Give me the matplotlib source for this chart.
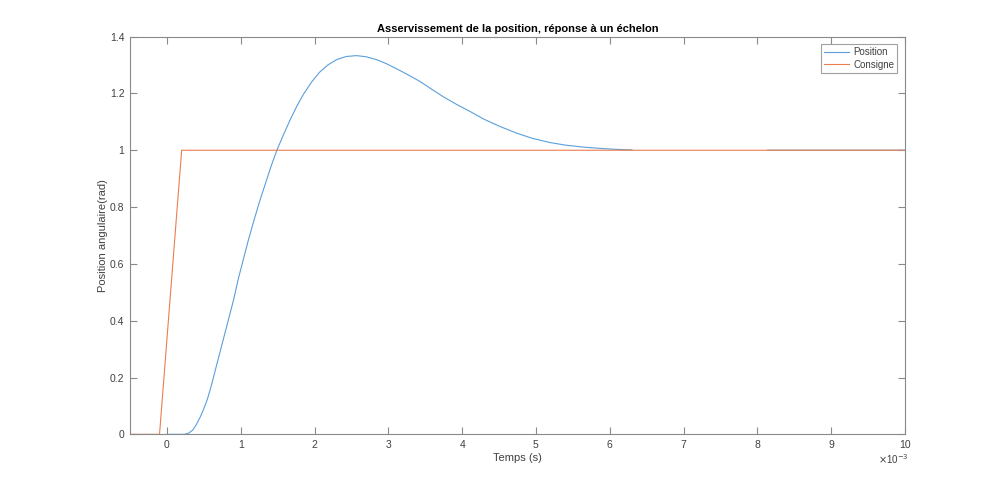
import numpy as np
import matplotlib
matplotlib.use("Agg")
import matplotlib.pyplot as plt

plt.rcParams["font.family"] = ["Liberation Sans", "DejaVu Sans"]

# Position response (time in ms, angle in rad); gap in the recorded trace
t_pos = [0, 0.24, 0.30, 0.35, 0.40, 0.45, 0.50, 0.55, 0.60, 0.65, 0.70, 0.76,
         0.83, 0.90, 0.97, 1.03, 1.10, 1.17, 1.25, 1.35, 1.42, 1.49, 1.58,
         1.67, 1.76, 1.85, 1.96, 2.07, 2.18, 2.30, 2.43, 2.57, 2.70, 2.84,
         2.97, 3.11, 3.27, 3.43, 3.58, 3.74, 3.92, 4.11, 4.29, 4.50, 4.74,
         4.95, 5.19, 5.40, 5.64, 5.90, 6.10, 6.30, np.nan, 8.14, 10.0]
y_pos = [0, 0, 0.005, 0.015, 0.035, 0.06, 0.09, 0.125, 0.17, 0.22, 0.27, 0.33,
         0.40, 0.47, 0.55, 0.61, 0.68, 0.745, 0.815, 0.895, 0.95, 1.0, 1.055,
         1.107, 1.155, 1.197, 1.24, 1.275, 1.30, 1.319, 1.330, 1.333, 1.329,
         1.319, 1.305, 1.287, 1.265, 1.242, 1.216, 1.189, 1.162, 1.136, 1.11,
         1.085, 1.060, 1.042, 1.027, 1.018, 1.011, 1.006, 1.003, 1.001,
         np.nan, 1.0, 1.0]

# Setpoint (consigne)
t_cons = [-0.5, -0.1, 0.2, 10.0]
y_cons = [0, 0, 1, 1]

x_ticks = list(range(0, 11))
y_ticks = [0, 0.2, 0.4, 0.6, 0.8, 1, 1.2, 1.4]

fig = plt.figure(figsize=(10, 4.88), dpi=100)
ax = fig.add_axes([0.13, 0.11, 0.775, 0.815])

t_pos_s = np.array(t_pos) * 1e-3
t_cons_s = np.array(t_cons) * 1e-3
ax.plot(t_pos_s, y_pos, color="#5A9FDB", linewidth=0.8, label="Position")
ax.plot(t_cons_s, y_cons, color="#EA7D4E", linewidth=0.8, label="Consigne")

ax.set_xlim(-0.5e-3, 10e-3)
ax.set_ylim(0, 1.4)
ax.set_xticks([v * 1e-3 for v in x_ticks])
ax.set_xticklabels([str(v) for v in x_ticks])
ax.set_yticks(y_ticks)
ax.set_yticklabels(["0", "0.2", "0.4", "0.6", "0.8", "1", "1.2", "1.4"])

axis_grey = "#8a8a8a"
text_grey = "#404040"
for s in ax.spines.values():
    s.set_color(axis_grey)
    s.set_linewidth(0.8)
ax.tick_params(direction="in", top=True, right=True, length=5, width=0.8,
               color=axis_grey, labelcolor=text_grey, labelsize=7.5, pad=4)

ax.text(0.985, -0.045, r"$\times$10$^{-3}$", transform=ax.transAxes,
        ha="center", va="top", fontsize=7, color=text_grey)

ax.set_xlabel("Temps (s)", fontsize=8, color=text_grey, labelpad=2)
ax.set_ylabel("Position angulaire(rad)", fontsize=8, color=text_grey)
ax.yaxis.set_label_coords(-0.029, 0.5)
ax.set_title("Asservissement de la position, réponse à un échelon",
             fontsize=8, fontweight="bold", pad=3)

leg = ax.legend(loc="upper right", fontsize=7, frameon=True, fancybox=False,
                handlelength=2.6, handletextpad=0.4, borderpad=0.3,
                borderaxespad=0.8, labelspacing=0.25)
leg.get_frame().set_edgecolor(axis_grey)
leg.get_frame().set_linewidth(0.8)
for txt in leg.get_texts():
    txt.set_color(text_grey)

fig.savefig("out.png", dpi=100, facecolor="white")
